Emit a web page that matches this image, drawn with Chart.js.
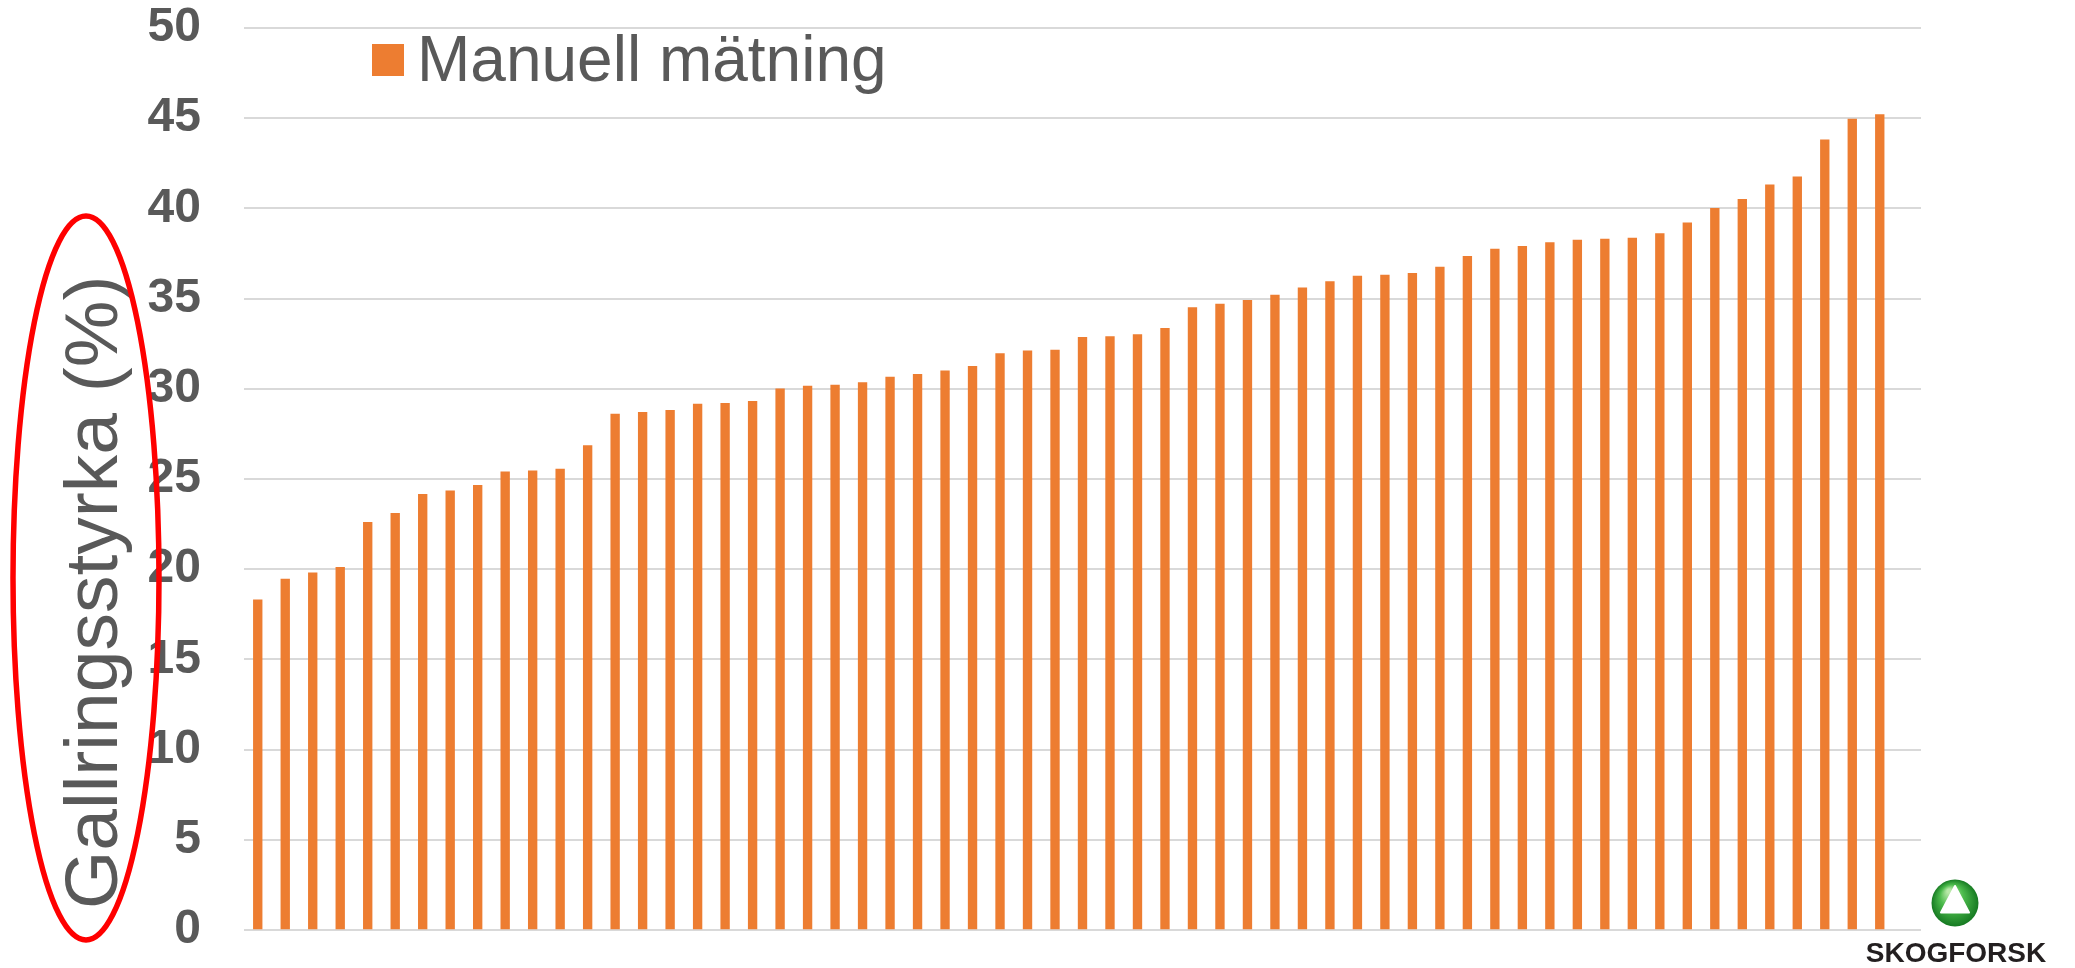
<!DOCTYPE html>
<html>
<head>
<meta charset="utf-8">
<script src="https://cdn.jsdelivr.net/npm/chart.js@4/dist/chart.umd.min.js"></script>
<style>
  html, body { margin: 0; padding: 0; background: #ffffff; }
  #wrap { width: 2075px; height: 968px; position: relative; }
</style>
</head>
<body>
<div id="wrap"><canvas id="c" width="2075" height="968"></canvas></div>
<script>
// ---- data ----
const stands = [
  1, 2, 3, 4, 5, 6, 7, 8, 9, 10,
  11, 12, 13, 14, 15, 16, 17, 18, 19, 20,
  21, 22, 23, 24, 25, 26, 27, 28, 29, 30,
  31, 32, 33, 34, 35, 36, 37, 38, 39, 40,
  41, 42, 43, 44, 45, 46, 47, 48, 49, 50,
  51, 52, 53, 54, 55, 56, 57, 58, 59, 60
];
const gallringsstyrka = [
  18.3, 19.45, 19.8, 20.1, 22.6, 23.1, 24.15, 24.35, 24.65, 25.4,
  25.45, 25.55, 26.85, 28.6, 28.7, 28.8, 29.15, 29.2, 29.3, 30.0,
  30.15, 30.2, 30.35, 30.65, 30.8, 31.0, 31.25, 31.95, 32.1, 32.15,
  32.85, 32.9, 33.0, 33.35, 34.5, 34.7, 34.9, 35.2, 35.6, 35.95,
  36.25, 36.3, 36.4, 36.75, 37.35, 37.75, 37.9, 38.1, 38.25, 38.3,
  38.35, 38.6, 39.2, 40.0, 40.5, 41.3, 41.75, 43.8, 44.95, 45.2
];
const yTicks = [0, 5, 10, 15, 20, 25, 30, 35, 40, 45, 50];
const seriesLabel = 'Manuell mätning';
const yTitle = 'Gallringsstyrka (%)';
const logoText = 'SKOGFORSK';

const ORANGE = '#ED7D31';
const GRAY_TEXT = '#595959';
const FONT = '"Liberation Sans", Arial, Helvetica, sans-serif';

const decor = {
  id: 'decor',
  afterDraw(chart) {
    const ctx = chart.ctx;
    ctx.save();

    // legend (inside plot, top-left)
    const ds = chart.data.datasets[0];
    ctx.fillStyle = ds.backgroundColor;
    ctx.fillRect(372, 44, 32, 32);
    ctx.fillStyle = GRAY_TEXT;
    ctx.font = 'normal 64px ' + FONT;
    ctx.textAlign = 'left';
    ctx.textBaseline = 'alphabetic';
    ctx.fillText(ds.label, 417, 81);

    // y axis title, rotated
    ctx.save();
    ctx.translate(117, 909);
    ctx.rotate(-Math.PI / 2);
    ctx.font = 'normal 75px ' + FONT;
    ctx.fillStyle = GRAY_TEXT;
    ctx.textAlign = 'left';
    ctx.textBaseline = 'alphabetic';
    ctx.fillText(yTitle, 0, 0);
    ctx.restore();

    // red highlight ellipse around the title
    ctx.beginPath();
    ctx.ellipse(86, 578, 73, 362, 0, 0, Math.PI * 2);
    ctx.strokeStyle = '#FF0000';
    ctx.lineWidth = 5.5;
    ctx.stroke();

    // logo: green sphere with white triangle
    const cx = 1955, cy = 903, r = 23.5;
    const g = ctx.createRadialGradient(cx - 6, cy - 12, 2, cx, cy, r);
    g.addColorStop(0, '#b8e8a8');
    g.addColorStop(0.45, '#4cbb4c');
    g.addColorStop(1, '#167a22');
    ctx.beginPath();
    ctx.arc(cx, cy, r, 0, Math.PI * 2);
    ctx.fillStyle = g;
    ctx.fill();
    ctx.beginPath();
    ctx.moveTo(cx, cy - 17);
    ctx.lineTo(cx + 14, cy + 9.5);
    ctx.lineTo(cx - 14, cy + 9.5);
    ctx.closePath();
    ctx.lineJoin = 'round';
    ctx.lineWidth = 2;
    ctx.strokeStyle = '#ffffff';
    ctx.fillStyle = '#ffffff';
    ctx.fill();
    ctx.stroke();

    ctx.font = 'bold 28px ' + FONT;
    ctx.fillStyle = '#231f20';
    ctx.textAlign = 'center';
    ctx.textBaseline = 'alphabetic';
    ctx.fillText(logoText, 1956, 962);

    ctx.restore();
  }
};

new Chart(document.getElementById('c').getContext('2d'), {
  type: 'bar',
  data: {
    datasets: [{
      label: seriesLabel,
      data: stands.map((s, i) => ({ x: s, y: gallringsstyrka[i] })),
      backgroundColor: ORANGE,
      borderWidth: 0,
      barThickness: 8.7
    }]
  },
  options: {
    responsive: false,
    maintainAspectRatio: false,
    animation: false,
    devicePixelRatio: 1,
    layout: { padding: { left: 0, top: 28, right: 154, bottom: 38 } },
    plugins: {
      legend: { display: false },
      tooltip: { enabled: false }
    },
    scales: {
      x: {
        type: 'linear',
        min: 0.5,
        max: 61.5,
        offset: false,
        grace: 0,
        display: false,
        grid: { offset: false }
      },
      y: {
        min: yTicks[0],
        max: yTicks[yTicks.length - 1],
        border: { display: false },
        grid: { color: '#D9D9D9', lineWidth: 2, drawTicks: true, tickLength: 43, tickColor: 'rgba(0,0,0,0)' },
        ticks: {
          stepSize: 5,
          padding: 0,
          color: GRAY_TEXT,
          font: { family: FONT, size: 48, weight: 'bold', lineHeight: 1 }
        },
        afterBuildTicks: (s) => { s.ticks = yTicks.map(v => ({ value: v })); },
        afterFit: (s) => { s.width = 244; }
      }
    }
  },
  plugins: [decor]
});
</script>
</body>
</html>
